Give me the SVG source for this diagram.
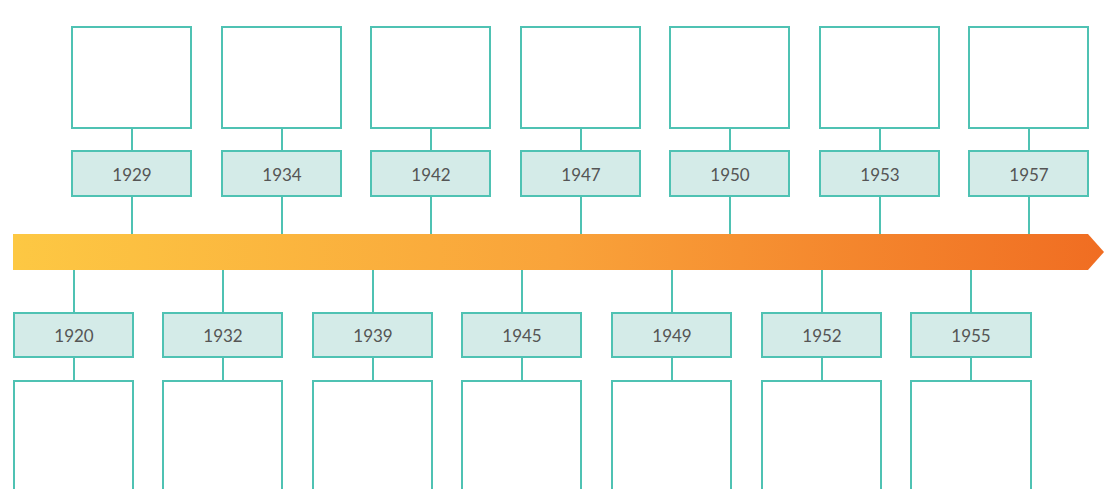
<svg xmlns="http://www.w3.org/2000/svg" width="1104" height="489" viewBox="0 0 1104 489">
<defs>
<linearGradient id="g" x1="0" y1="0" x2="1" y2="0">
<stop offset="0" stop-color="#fdc843"/>
<stop offset="0.5" stop-color="#f9a33a"/>
<stop offset="1" stop-color="#f06d22"/>
</linearGradient>
<style>
.box{fill:#ffffff;stroke:#4fc2b3;stroke-width:2}
.lab{fill:#d4ebe8;stroke:#4fc2b3;stroke-width:2}
.ln{stroke:#4fc2b3;stroke-width:2;fill:none}
text{font-family:Lato,"Open Sans",sans-serif;font-size:17px;fill:#555;text-anchor:middle;dominant-baseline:central}
</style>
</defs>
<rect width="1104" height="489" fill="#fff"/>
<g id="connectors">
<path class="ln" d="M132 128V151M132 196V234M282 128V151M282 196V234M431 128V151M431 196V234M581 128V151M581 196V234M730 128V151M730 196V234M880 128V151M880 196V234M1029 128V151M1029 196V234"/>
<path class="ln" d="M74 270V313M74 357V381M223 270V313M223 357V381M373 270V313M373 357V381M522 270V313M522 357V381M672 270V313M672 357V381M822 270V313M822 357V381M971 270V313M971 357V381"/>
</g>
<g id="timeline"><path d="M13 234H1088L1104 252L1088 270H13Z" fill="url(#g)"/></g>
<g id="t1929"><rect class="box" x="72" y="27" width="119" height="101"/><rect class="lab" x="72" y="151" width="119" height="45"/><text x="132" y="174">1929</text></g>
<g id="t1934"><rect class="box" x="222" y="27" width="119" height="101"/><rect class="lab" x="222" y="151" width="119" height="45"/><text x="282" y="174">1934</text></g>
<g id="t1942"><rect class="box" x="371" y="27" width="119" height="101"/><rect class="lab" x="371" y="151" width="119" height="45"/><text x="431" y="174">1942</text></g>
<g id="t1947"><rect class="box" x="521" y="27" width="119" height="101"/><rect class="lab" x="521" y="151" width="119" height="45"/><text x="581" y="174">1947</text></g>
<g id="t1950"><rect class="box" x="670" y="27" width="119" height="101"/><rect class="lab" x="670" y="151" width="119" height="45"/><text x="730" y="174">1950</text></g>
<g id="t1953"><rect class="box" x="820" y="27" width="119" height="101"/><rect class="lab" x="820" y="151" width="119" height="45"/><text x="880" y="174">1953</text></g>
<g id="t1957"><rect class="box" x="969" y="27" width="119" height="101"/><rect class="lab" x="969" y="151" width="119" height="45"/><text x="1029" y="174">1957</text></g>
<g id="t1920"><rect class="lab" x="14" y="313" width="119" height="44"/><text x="74" y="335">1920</text><rect class="box" x="14" y="381" width="119" height="120"/></g>
<g id="t1932"><rect class="lab" x="163" y="313" width="119" height="44"/><text x="223" y="335">1932</text><rect class="box" x="163" y="381" width="119" height="120"/></g>
<g id="t1939"><rect class="lab" x="313" y="313" width="119" height="44"/><text x="373" y="335">1939</text><rect class="box" x="313" y="381" width="119" height="120"/></g>
<g id="t1945"><rect class="lab" x="462" y="313" width="119" height="44"/><text x="522" y="335">1945</text><rect class="box" x="462" y="381" width="119" height="120"/></g>
<g id="t1949"><rect class="lab" x="612" y="313" width="119" height="44"/><text x="672" y="335">1949</text><rect class="box" x="612" y="381" width="119" height="120"/></g>
<g id="t1952"><rect class="lab" x="762" y="313" width="119" height="44"/><text x="822" y="335">1952</text><rect class="box" x="762" y="381" width="119" height="120"/></g>
<g id="t1955"><rect class="lab" x="911" y="313" width="120" height="44"/><text x="971" y="335">1955</text><rect class="box" x="911" y="381" width="120" height="120"/></g>
</svg>
